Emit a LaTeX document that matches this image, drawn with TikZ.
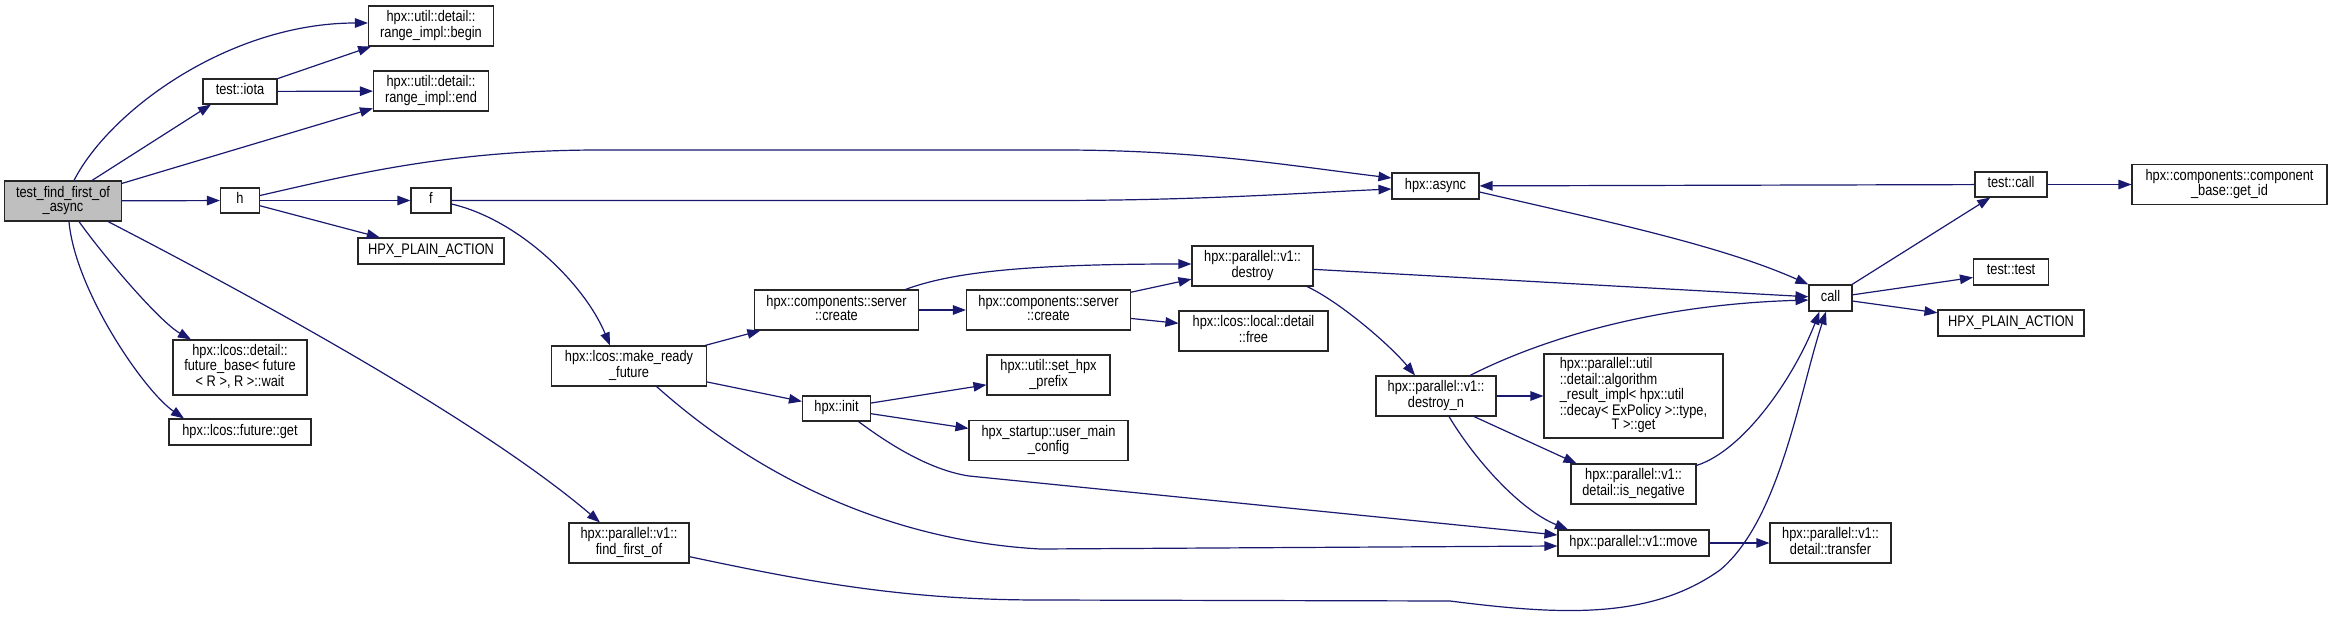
\documentclass[tikz,border=0pt]{standalone}
\usepackage{fontspec}
\usepackage{graphicx}
\setmainfont{Liberation Sans}
\usetikzlibrary{arrows.meta,calc}
\definecolor{edgeblue}{HTML}{191970}
\definecolor{nodeborder}{HTML}{262626}
\definecolor{rootgray}{HTML}{BFBFBF}
\newcommand{\nodefnt}{\fontsize{12.8}{11.9}\selectfont}
\newcommand{\lbl}[1]{\scalebox{1}[1.2]{\begin{tabular}{@{}c@{}}#1\end{tabular}}}
\newcommand{\lbll}[1]{\scalebox{1}[1.2]{\begin{tabular}{@{}l@{}}#1\end{tabular}}}
\tikzset{
  box/.style={draw=nodeborder, line width=1.1pt, fill=white, inner sep=0pt, align=center, font=\nodefnt},
  edge/.style={draw=edgeblue, line width=1.2pt, -{Triangle[length=13pt,width=9.5pt]}},
}
\begin{document}
\begin{tikzpicture}[x=1pt,y=-1pt]
\fill[white] (0,0) rectangle (2332,620);
\useasboundingbox (0,0) rectangle (2332,620);
% nodes
\node[box, fill=rootgray, minimum width=117pt, minimum height=40pt] (root) at (63,201) {\lbl{test\_find\_first\_of\\\_async}};
\node[box, minimum width=125pt, minimum height=40pt] (begin) at (431,26) {\lbl{hpx::util::detail::\\range\_impl::begin}};
\node[box, minimum width=74pt, minimum height=25pt] (iota) at (240,91.5) {\lbl{test::iota}};
\node[box, minimum width=115pt, minimum height=40pt] (end) at (431,91) {\lbl{hpx::util::detail::\\range\_impl::end}};
\node[box, minimum width=39pt, minimum height=25pt] (h) at (240,200.5) {\lbl{h}};
\node[box, minimum width=40pt, minimum height=25pt] (f) at (431,200.5) {\lbl{f}};
\node[box, minimum width=146pt, minimum height=26pt] (hpa1) at (431,251) {\lbl{HPX\_PLAIN\_ACTION}};
\node[box, minimum width=134pt, minimum height=55pt] (wait) at (240,367.5) {\lbl{hpx::lcos::detail::\\future\_base< future\\< R >, R >::wait}};
\node[box, minimum width=142pt, minimum height=26pt] (get) at (240,432) {\lbl{hpx::lcos::future::get}};
\node[box, minimum width=120pt, minimum height=40pt] (ffo) at (629,543) {\lbl{hpx::parallel::v1::\\find\_first\_of}};
\node[box, minimum width=155pt, minimum height=40pt] (mrf) at (629,366) {\lbl{hpx::lcos::make\_ready\\\_future}};
\node[box, minimum width=164pt, minimum height=40pt] (create1) at (836.5,310) {\lbl{hpx::components::server\\::create}};
\node[box, minimum width=68pt, minimum height=25pt] (init) at (836.5,408.5) {\lbl{hpx::init}};
\node[box, minimum width=164pt, minimum height=40pt] (create2) at (1048.5,310) {\lbl{hpx::components::server\\::create}};
\node[box, minimum width=123pt, minimum height=40pt] (sethpx) at (1048.5,375) {\lbl{hpx::util::set\_hpx\\\_prefix}};
\node[box, minimum width=159pt, minimum height=40pt] (umc) at (1048.5,440.5) {\lbl{hpx\_startup::user\_main\\\_config}};
\node[box, minimum width=121pt, minimum height=40pt] (destroy) at (1252.5,266) {\lbl{hpx::parallel::v1::\\destroy}};
\node[box, minimum width=149pt, minimum height=40pt] (free) at (1253.5,331) {\lbl{hpx::lcos::local::detail\\::free}};
\node[box, minimum width=87pt, minimum height=26pt] (async) at (1435.5,186) {\lbl{hpx::async}};
\node[box, minimum width=120pt, minimum height=40pt] (destroyn) at (1436,396) {\lbl{hpx::parallel::v1::\\destroy\_n}};
\node[box, minimum width=179pt, minimum height=84pt] (alg) at (1633.5,396) {\lbll{hpx::parallel::util\\::detail::algorithm\\\_result\_impl< hpx::util\\::decay< ExPolicy >::type,\\\multicolumn{1}{@{}c@{}}{T >::get}}};
\node[box, minimum width=125pt, minimum height=40pt] (isneg) at (1633.5,484) {\lbl{hpx::parallel::v1::\\detail::is\_negative}};
\node[box, minimum width=151pt, minimum height=26pt] (move) at (1633.5,543) {\lbl{hpx::parallel::v1::move}};
\node[box, minimum width=43pt, minimum height=26pt] (call) at (1830.5,298) {\lbl{call}};
\node[box, minimum width=121pt, minimum height=40pt] (transfer) at (1830.5,543) {\lbl{hpx::parallel::v1::\\detail::transfer}};
\node[box, minimum width=72pt, minimum height=25pt] (tcall) at (2011,184.5) {\lbl{test::call}};
\node[box, minimum width=75pt, minimum height=26pt] (ttest) at (2011,272) {\lbl{test::test}};
\node[box, minimum width=146pt, minimum height=26pt] (hpa2) at (2011,323) {\lbl{HPX\_PLAIN\_ACTION}};
\node[box, minimum width=195pt, minimum height=40pt] (getid) at (2229.5,184.5) {\lbl{hpx::components::component\\\_base::get\_id}};
% edges
\draw[edge] ($(root.north)+(11,0)$) .. controls (110,110) and (230,23) .. ($(begin.west)+(0,-3)$);
\draw[edge] ($(root.north)+(29,0)$) -- ($(iota.south)+(-29,0)$);
\draw[edge] (root) -- (end);
\draw[edge] (root) -- (h);
\draw[edge] ($(root.south)+(16,0)$) .. controls (105,258) and (160,322) .. ($(wait.north)+(-49,0)$);
\draw[edge] ($(root.south)+(6,0)$) .. controls (75,290) and (144,391) .. ($(get.north)+(-56,0)$);
\draw[edge] ($(root.south)+(45,0)$) .. controls (250,295) and (480,420) .. ($(ffo.north)+(-29,0)$);
\draw[edge] (iota) -- (begin);
\draw[edge] (iota) -- (end);
\draw[edge] ($(h.east)+(0,-5)$) .. controls (350,175) and (450,150) .. (600,150) -- (1060,150) .. controls (1200,150) and (1292,166) .. ($(async.west)+(0,-8)$);
\draw[edge] (h) -- (f);
\draw[edge] (h) -- (hpa1);
\draw[edge] (f.east) -- (1050,200.5) .. controls (1200,200.5) and (1300,193) .. ($(async.west)+(0,3)$);
\draw[edge] ($(f.east)+(0,3.5)$) .. controls (520,220) and (585,285) .. ($(mrf.north)+(-19,0)$);
\draw[edge] (mrf) -- (create1);
\draw[edge] (mrf) -- (init);
\draw[edge] ($(mrf.south)+(27.6,0)$) .. controls (750,470) and (880,540) .. (1040,549) -- ($(move.west)+(0,3)$);
\draw[edge] ($(create1.north)+(69,0)$) .. controls (950,273) and (1020,264) .. ($(destroy.west)+(0,-2)$);
\draw[edge] (create1) -- (create2);
\draw[edge] (create2) -- (destroy);
\draw[edge] (create2) -- (free);
\draw[edge] (destroy) -- (call);
\draw[edge] ($(destroy.south)+(54.5,0)$) .. controls (1340,302) and (1390,345) .. ($(destroyn.north)+(-21,0)$);
\draw[edge] ($(async.east)+(0,6)$) .. controls (1600,220) and (1720,245) .. (call.north west);
\draw[edge] (call) -- (tcall);
\draw[edge] (call) -- (ttest);
\draw[edge] (call) -- (hpa2);
\draw[edge] (tcall) -- (async);
\draw[edge] (tcall) -- (getid);
\draw[edge] ($(destroyn.north)+(34,0)$) .. controls (1530,345) and (1640,305) .. ($(call.west)+(0,2)$);
\draw[edge] (destroyn) -- (alg);
\draw[edge] ($(destroyn.south)+(38,0)$) -- ($(isneg.north)+(-57,0)$);
\draw[edge] ($(destroyn.south)+(13,0)$) .. controls (1475,460) and (1520,510) .. ($(move.north)+(-65.5,0)$);
\draw[edge] ($(isneg.north east)+(0,2)$) .. controls (1745,450) and (1795,375) .. ($(call.south)+(-11,0)$);
\draw[edge] (move) -- (transfer);
\draw[edge] (init) -- (sethpx);
\draw[edge] (init) -- (umc);
\draw[edge] ($(init.south)+(22,0)$) .. controls (890,445) and (930,470) .. (969,476) -- ($(move.west)+(0,-8)$);
\draw[edge] ($(ffo.east)+(0,13.7)$) .. controls (800,580) and (900,600) .. (1040,600) -- (1450,601) .. controls (1560,615) and (1650,620) .. (1720,570) .. controls (1780,520) and (1800,390) .. ($(call.south)+(-4.5,0)$);
\end{tikzpicture}
\end{document}
